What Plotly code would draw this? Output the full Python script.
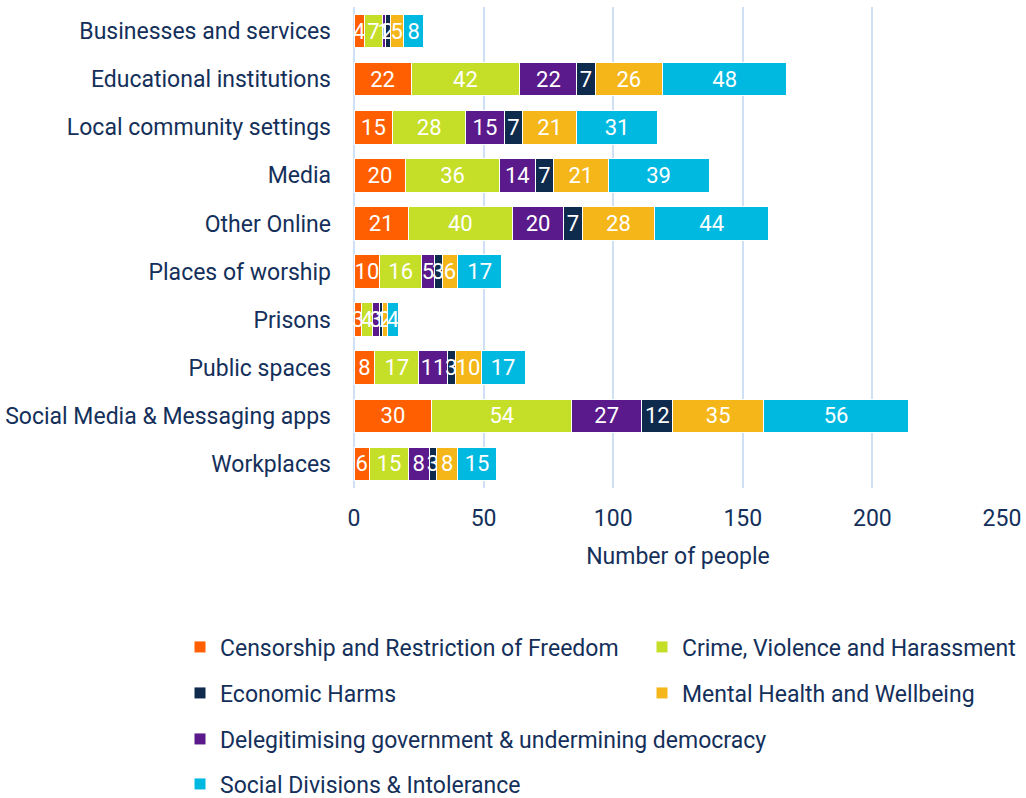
import plotly.graph_objects as go

categories = ["Businesses and services", "Educational institutions", "Local community settings",
              "Media", "Other Online", "Places of worship", "Prisons", "Public spaces",
              "Social Media & Messaging apps", "Workplaces"]

censorship = [4, 22, 15, 20, 21, 10, 3, 8, 30, 6]
crime = [7, 42, 28, 36, 40, 16, 4, 17, 54, 15]
delegitimising = [1, 22, 15, 14, 20, 5, 3, 11, 27, 8]
economic = [2, 7, 7, 7, 7, 3, 1, 3, 12, 3]
mental = [5, 26, 21, 21, 28, 6, 2, 10, 35, 8]
social = [8, 48, 31, 39, 44, 17, 4, 17, 56, 15]

series = [
    ("Censorship and Restriction of Freedom", censorship, "#FF5F00", "legend"),
    ("Crime, Violence and Harassment", crime, "#C5DE28", "legend2"),
    ("Delegitimising government & undermining democracy", delegitimising, "#5A1A8C", "legend5"),
    ("Economic Harms", economic, "#0E2A4D", "legend3"),
    ("Mental Health and Wellbeing", mental, "#F4B619", "legend4"),
    ("Social Divisions & Intolerance", social, "#00B9E1", "legend6"),
]

FONT = "Roboto, 'Liberation Sans', sans-serif"
TXT = "#14305A"
FS = 23
BFS = 22

fig = go.Figure()
for name, vals, color, lg in series:
    fig.add_trace(go.Bar(
        y=categories, x=vals, name=name, orientation="h",
        marker=dict(color=color, line=dict(color="white", width=1)),
        text=vals, textposition="inside", insidetextanchor="middle",
        constraintext="none", cliponaxis=False,
        textfont=dict(color="white", size=BFS, family=FONT),
        legend=lg,
    ))

def leg(x, y):
    return dict(x=x, y=y, xanchor="left", yanchor="middle", orientation="h",
                font=dict(size=FS, color=TXT, family=FONT), bgcolor="rgba(0,0,0,0)")

PW, PH = 1026, 798
ML, MR, MT, MB = 354, 24, 7, 310
pw = PW - ML - MR
ph = PH - MT - MB

def px(x):
    return (x - ML) / pw

def py(y):
    return (PH - MB - y) / ph

L = px(180)
R = px(642)
OFF = -1
fig.update_layout(
    barmode="stack",
    bargap=0.3,
    width=PW, height=PH,
    margin=dict(l=ML, r=MR, t=MT, b=MB, autoexpand=False),
    plot_bgcolor="white", paper_bgcolor="white",
    font=dict(family=FONT, color=TXT, size=FS),
    xaxis=dict(range=[0, 250], dtick=50, showgrid=True, gridcolor="#CFE0F5", gridwidth=2,
               zeroline=True, zerolinecolor="#CFE0F5", zerolinewidth=2,
               tickfont=dict(size=FS, color=TXT), ticks="", ticklabelstandoff=14,
               title=dict(text="Number of people", font=dict(size=FS, color=TXT), standoff=16)),
    yaxis=dict(autorange="reversed", tickfont=dict(size=FS, color=TXT), ticks="",
               ticklabelstandoff=22, showgrid=False),
    showlegend=True,
    legend=leg(L, py(648 + OFF)),
    legend2=leg(R, py(648 + OFF)),
    legend3=leg(L, py(694 + OFF)),
    legend4=leg(R, py(694 + OFF)),
    legend5=leg(L, py(740 + OFF)),
    legend6=leg(L, py(785 + OFF)),
)

fig.write_html("out.html",
               config={"displayModeBar": False},
               post_script="document.body.style.margin='0';document.body.style.overflow='hidden';")
